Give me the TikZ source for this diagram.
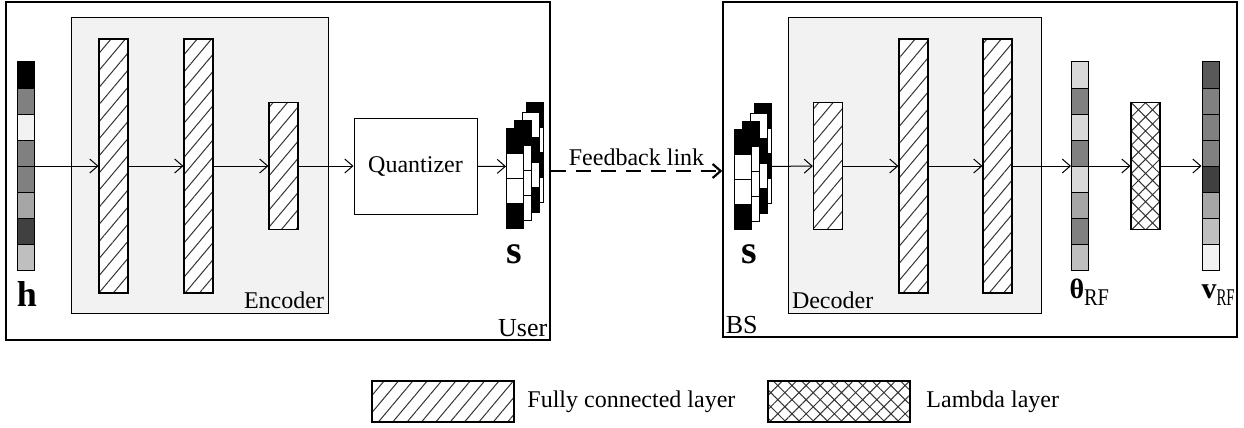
\documentclass[tikz,border=0pt]{standalone}
\usepackage{fontspec}
\setmainfont{Liberation Serif}
\usepackage{tikz}
\usetikzlibrary{arrows.meta}
\usetikzlibrary{patterns.meta}
\usetikzlibrary{positioning}

\tikzset{
    cell/.style={draw, line width=1pt},
    fc/.style={draw, line width=1.2pt, inner sep=0, minimum width=29pt,
        preaction={fill=white}, pattern color=black!80,
        pattern={Lines[angle=50,distance=11pt,line width=1pt]}},
    lam/.style={draw, line width=1.2pt, inner sep=0, minimum width=29pt,
        preaction={fill=white}, pattern color=black!80,
        pattern={Hatch[angle=45,distance=10pt,line width=1pt]}},
    tall/.style={minimum height=254pt},
    short/.style={minimum height=127pt},
    panel/.style={draw, line width=1.4pt, inner sep=0},
    block/.style={draw, line width=1pt, fill=black!5, inner sep=0},
    big/.style={font=\fontsize{36}{36}\selectfont\bfseries},
    sidelab/.style={font=\fontsize{26}{28}\selectfont, inner sep=3pt},
}

% vector of 8 grey cells
\newcommand{\cellbar}[3]{%
    \foreach \c [count=\i from 0] in {#3}
        \draw[cell, fill=black!\c] (#2-8.5,62+26*\i) rectangle ++(17,26);
    \node[inner sep=0, minimum width=17pt, minimum height=208pt] (#1) at (#2,166) {};
}

% stack of binary vectors
\newcommand{\sstack}[3]{%
    \foreach \dx/\dy/\pat in {20/-26/{100,0,100,0}, 16/-16/{0,100,0,100},
                              8/-8/{100,0,0,0}, 0/0/{100,0,0,100}}
        \foreach \c [count=\j from 0] in \pat
            \draw[cell, fill=black!\c] (#2+\dx,#3+\dy+25*\j) rectangle ++(17,25);
    \node[inner sep=0, minimum width=37pt, minimum height=128pt, anchor=north west] (#1) at (#2,102) {};
}

\begin{document}
\begin{tikzpicture}[x=1pt, y=-1pt, line width=1pt, font=\fontsize{24}{28}\selectfont,
    >={Straight Barb[length=8pt,width=14pt]}]

    \useasboundingbox (0,0) rectangle (1244,428);

    % user side
    \node[panel, minimum width=544pt, minimum height=338pt] (user) at (278,171) {};
    \node[sidelab, anchor=south east] (userlab) at (user.south east) {User};
    \node[block, minimum width=257pt, minimum height=295pt] (enc) at (199.5,165.5) {};
    \node[anchor=south east, inner sep=4pt] (enclab) at (enc.south east) {Encoder};

    \cellbar{h}{25.5}{100,50,5,50,50,35,75,25}
    \node[big] (hlab) at (27,294) {h};

    \node[fc, tall]  (enc1) at (113.5,166) {};
    \node[fc, tall]  (enc2) at (198.5,166) {};
    \node[fc, short] (enc3) at (283.5,166) {};

    \node[draw, inner sep=0, minimum width=123pt, minimum height=96pt] (quant) at (415.5,166) {Quantizer};

    \sstack{su}{506}{128}
    \node[big, font=\fontsize{40}{40}\selectfont\bfseries] (sulab) at (514.5,254) {s};

    % BS side
    \node[panel, minimum width=514pt, minimum height=335pt] (bs) at (980,169.5) {};
    \node[sidelab, anchor=south west] (bslab) at (bs.south west) {BS};
    \node[block, minimum width=253pt, minimum height=295pt] (dec) at (914.5,165.5) {};
    \node[anchor=south west, inner sep=4pt] (declab) at (dec.south west) {Decoder};

    \sstack{sb}{734}{129}
    \node[big, font=\fontsize{40}{40}\selectfont\bfseries] (sblab) at (749,254) {s};

    \node[fc, short] (dec1) at (828,166) {};
    \node[fc, tall]  (dec2) at (913.5,166) {};
    \node[fc, tall]  (dec3) at (997.5,166) {};

    \cellbar{theta}{1080}{15,50,15,50,15,35,50,25}
    \node[lam, short] (lambda) at (1145.5,166) {};
    \cellbar{v}{1210.5}{65,50,50,50,75,35,25,5}

    \node[anchor=base west, inner sep=0] (thlab) at (1069,298)
        {{\fontsize{28}{28}\selectfont\bfseries θ}\raisebox{-7pt}{\scalebox{0.85}[1]{RF}}};
    \node[anchor=base west, inner sep=0] (vlab) at (1201,298)
        {{\fontsize{30}{30}\selectfont\bfseries v}\raisebox{-7pt}{\scalebox{0.62}[1]{RF}}};

    % connections
    \draw[->] (h) -- (enc1);
    \draw[->] (enc1) -- (enc2);
    \draw[->] (enc2) -- (enc3);
    \draw[->] (enc3) -- (quant);
    \draw[->] (quant) -- (su);
    \draw[->, line width=2.2pt, dash pattern=on 15pt off 10pt] (user.east) -- (user.east -| bs.west)
        node[midway, above=1pt] (fblab) {Feedback link};
    \draw[->] (sb) -- (dec1);
    \draw[->] (dec1) -- (dec2);
    \draw[->] (dec2) -- (dec3);
    \draw[->] (dec3) -- (theta);
    \draw[->] (theta) -- (lambda);
    \draw[->] (lambda) -- (v);

    % legend
    \node[fc, minimum width=142pt, minimum height=41pt] (fcleg) at (443,401.5) {};
    \node[right=9pt of fcleg] (fctext) {Fully connected layer};
    \node[lam, minimum width=142pt, minimum height=41pt] (lamleg) at (839,401.5) {};
    \node[right=12pt of lamleg] (lamtext) {Lambda layer};
\end{tikzpicture}
\end{document}
